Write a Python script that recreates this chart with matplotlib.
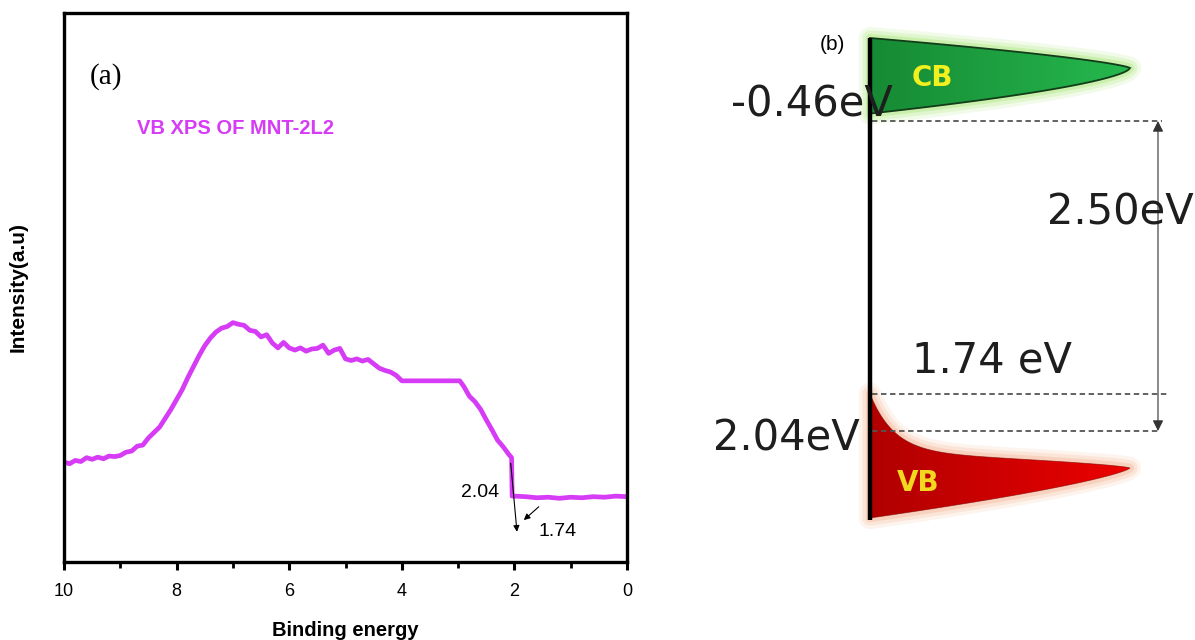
import numpy as np
import matplotlib.pyplot as plt
from matplotlib.colors import to_rgb
from matplotlib.patches import Polygon
from matplotlib.ticker import MultipleLocator

# VB XPS spectrum of MNT-2L2 (binding energy in eV, intensity in arb. units)
binding_energy = [10.0, 9.9, 9.8, 9.7, 9.6, 9.5, 9.4, 9.3, 9.2, 9.1, 9.0,
                  8.9, 8.8, 8.7, 8.6, 8.5, 8.4, 8.3, 8.2, 8.1, 8.0,
                  7.9, 7.8, 7.7, 7.6, 7.5, 7.4, 7.3, 7.2, 7.1, 7.0,
                  6.9, 6.8, 6.7, 6.6, 6.5, 6.4, 6.3, 6.2, 6.1, 6.0,
                  5.9, 5.8, 5.7, 5.6, 5.5, 5.4, 5.3, 5.2, 5.1, 5.0,
                  4.9, 4.8, 4.7, 4.6, 4.5, 4.4, 4.3, 4.2, 4.1, 4.0,
                  2.97, 2.9, 2.8, 2.7, 2.6, 2.5, 2.4, 2.3, 2.2, 2.1,
                  2.05, 2.04, 2.0, 1.8, 1.6, 1.4, 1.2, 1.0, 0.8, 0.6,
                  0.4, 0.2, 0.0]
intensity = [18.2, 17.9, 18.5, 18.3, 19.0, 18.7, 19.1, 18.8, 19.3, 19.2, 19.4,
             20.0, 20.2, 21.1, 21.3, 22.6, 23.6, 24.6, 26.2, 27.8, 29.6,
             31.4, 33.6, 35.6, 37.6, 39.4, 40.8, 41.9, 42.6, 42.9, 43.6,
             43.3, 43.1, 42.2, 42.0, 41.0, 41.4, 39.9, 39.0, 40.0, 39.0,
             38.6, 39.0, 38.4, 38.8, 38.9, 39.5, 38.0, 38.6, 38.9, 37.0,
             36.7, 37.0, 36.6, 36.9, 36.1, 35.3, 34.9, 34.6, 34.0, 33.0,
             33.0, 32.0, 30.2, 29.2, 27.8, 25.9, 24.1, 22.2, 21.0, 19.6,
             19.0, 12.0, 12.0, 11.9, 11.7, 11.8, 11.6, 11.8, 11.7, 11.9,
             11.8, 12.0, 11.9]

# band edges (eV) for the band diagram
cb_edge = -0.46
vb_edge = 2.04
vb_onset = 1.74
band_gap = vb_edge - cb_edge

magenta = '#d63cf5'
sans = ['Liberation Sans', 'DejaVu Sans']

fig = plt.figure(figsize=(11.95, 6.4), dpi=100)

# ---- (a) spectrum ----
ax = fig.add_axes([64/1195, 78/640, 563/1195, 549/640])
ax.plot(binding_energy, intensity, color=magenta, lw=3.4, solid_joinstyle='round')
ax.set_xlim(10, 0)
ax.set_ylim(0, 100)
ax.xaxis.set_major_locator(MultipleLocator(2))
ax.xaxis.set_minor_locator(MultipleLocator(1))
ax.set_yticks([])
ax.tick_params(axis='x', which='major', direction='out', length=6, width=2.2, pad=9)
ax.tick_params(axis='x', which='minor', direction='out', length=4, width=2)
for lab in ax.get_xticklabels():
    lab.set_family(sans)
    lab.set_fontsize(13)
for s in ax.spines.values():
    s.set_linewidth(2.4)
ax.set_xlabel('Binding energy', fontsize=14.5, fontweight='bold', family=sans, labelpad=15)
ax.set_ylabel('Intensity(a.u)', fontsize=15, fontweight='bold', family=sans, labelpad=26)
ax.text(0.045, 0.885, '(a)', transform=ax.transAxes, fontsize=21,
        family=['Liberation Serif', 'DejaVu Serif'], va='center')
ax.text(0.13, 0.79, 'VB XPS OF MNT-2L2', transform=ax.transAxes, fontsize=14.5,
        fontweight='bold', color=magenta, family=sans, va='center')

ax.text(2.27, 12.6, f'{vb_edge:.2f}', ha='right', va='center', fontsize=14, family=sans)
ax.text(1.58, 5.5, f'{vb_onset:.2f}', ha='left', va='center', fontsize=14, family=sans)
ax.annotate('', xy=(1.95, 5.0), xytext=(2.07, 18.5),
            arrowprops=dict(arrowstyle='-|>', color='black', lw=0.8, mutation_scale=9))
ax.annotate('', xy=(1.87, 7.3), xytext=(1.53, 10.4),
            arrowprops=dict(arrowstyle='-|>', color='black', lw=0.8, mutation_scale=9))

# ---- (b) band diagram, y in eV (downward) ----
px_per_ev = 124.0
e_top = cb_edge - 121 / px_per_ev
e_bot = e_top + 640 / px_per_ev
bx = fig.add_axes([690/1195, 0, 505/1195, 1])
bx.axis('off')


def ev(px):
    return e_top + px / px_per_ev


def glow(poly_xy, color):
    for lw, a in [(16, 0.18), (11, 0.3), (6, 0.5)]:
        bx.add_patch(Polygon(poly_xy, closed=True, facecolor='none', edgecolor=color,
                             lw=lw, alpha=a, joinstyle='round', zorder=1))


def gradient_fill(poly_xy, c_left, c_right, z):
    poly = Polygon(poly_xy, closed=True, facecolor='none', edgecolor='none', zorder=z)
    bx.add_patch(poly)
    c0, c1 = np.array(to_rgb(c_left)), np.array(to_rgb(c_right))
    t = np.linspace(0, 1, 256)[None, :, None]
    img = c0 + (c1 - c0) * t
    xs, ys = poly_xy[:, 0], poly_xy[:, 1]
    im = bx.imshow(img, extent=[xs.min(), xs.max(), ys.max(), ys.min()],
                   aspect='auto', zorder=z, interpolation='bilinear')
    im.set_clip_path(poly)


x0, x_tip = 870.0, 1130.0
t = np.linspace(0, 1, 160)
xs = x0 + (x_tip - x0) * t

# conduction band lobe
cb_top, cb_tip, cb_low = ev(38), ev(68), cb_edge - 0.06
top_cb = cb_tip + (cb_top - cb_tip) * (1 - t) ** 0.74
low_cb = cb_tip + (cb_low - cb_tip) * (1 - t) ** 0.63
cb_xy = np.column_stack([np.r_[xs, xs[::-1]], np.r_[top_cb, low_cb[::-1]]])
glow(cb_xy, '#b8ec90')
gradient_fill(cb_xy, '#168a34', '#26b84e', 2)
bx.add_patch(Polygon(cb_xy, closed=True, facecolor='none', edgecolor='#123d18',
                     lw=1.3, zorder=3))
bx.text(932, ev(78), 'CB', color='#f2f01e', fontsize=20, fontweight='bold',
        ha='center', va='center', zorder=4)

# valence band lobe: tail rising from the band edge up to the onset
vb_tip, vb_low, vb_shoulder = ev(468), ev(518), ev(452)
base_vb = vb_tip + (vb_shoulder - vb_tip) * (1 - t) ** 0.7
top_vb = base_vb - (vb_shoulder - vb_onset) * np.exp(-(xs - x0) / 24.0)
low_vb = vb_tip + (vb_low - vb_tip) * (1 - t) ** 0.75
vb_xy = np.column_stack([np.r_[xs, xs[::-1]], np.r_[top_vb, low_vb[::-1]]])
glow(vb_xy, '#f7c2a6')
gradient_fill(vb_xy, '#b00000', '#ec0000', 2)
bx.add_patch(Polygon(vb_xy, closed=True, facecolor='none', edgecolor='#7a0000',
                     lw=0.6, alpha=0.6, zorder=3))
bx.text(918, ev(483), 'VB', color='#f2d81e', fontsize=20, fontweight='bold',
        ha='center', va='center', zorder=4)

# energy axis line
bx.plot([x0, x0], [ev(38), ev(520)], color='black', lw=3.2, zorder=5,
        solid_capstyle='butt')

# levels
dash = dict(color='#555555', lw=1.3, ls=(0, (3, 2)), zorder=3)
bx.plot([x0 + 2, 1162], [cb_edge, cb_edge], **dash)
bx.plot([x0 + 2, 1168], [vb_onset, vb_onset], **dash)
bx.plot([x0 + 2, 1160], [vb_edge, vb_edge], **dash)
bx.annotate('', xy=(1158, cb_edge), xytext=(1158, vb_edge),
            arrowprops=dict(arrowstyle='<|-|>', color='#333333', lw=0.8,
                            mutation_scale=16, shrinkA=0, shrinkB=0))

lvl = dict(fontsize=30, color='#1e1e1e', family='DejaVu Sans', zorder=6)
bx.text(893, cb_edge - 0.13, f'{cb_edge:.2f}eV', ha='right', va='center', **lvl)
bx.text(1194, cb_edge + 0.74, f'{band_gap:.2f}eV', ha='right', va='center', **lvl)
bx.text(912, vb_onset - 0.1, f'{vb_onset:.2f} eV', ha='left', va='bottom', **lvl)
bx.text(860, vb_edge + 0.06, f'{vb_edge:.2f}eV', ha='right', va='center', **lvl)
bx.text(832, ev(45), '(b)', fontsize=15, ha='center', va='center', family=sans)

bx.set_xlim(690, 1195)
bx.set_ylim(e_bot, e_top)

fig.savefig('out.png', dpi=100)
